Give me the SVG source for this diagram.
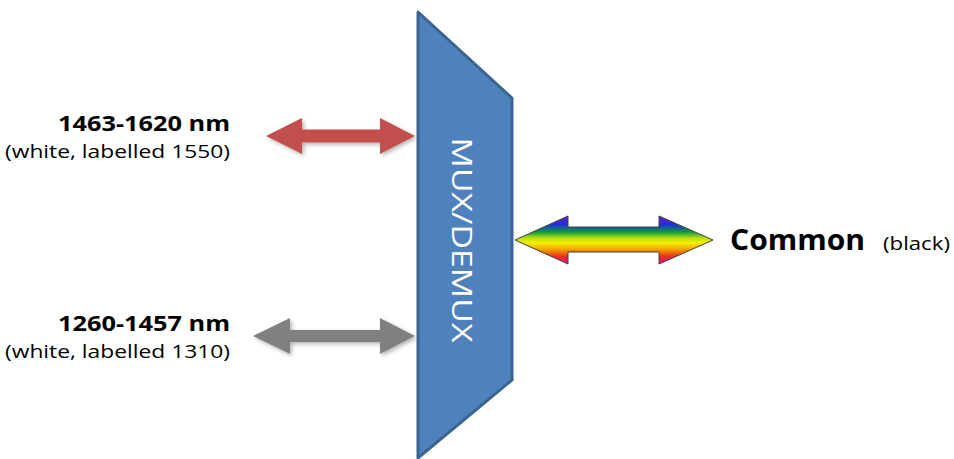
<svg xmlns="http://www.w3.org/2000/svg" width="954" height="459" viewBox="0 0 954 459">
<style>
  .lbl { font-family: "Open Sans", "Liberation Sans", sans-serif; fill: #000; }
  .b { font-weight: bold; }
  .sh { filter: url(#shadow); }
</style>
<defs>
  <filter id="shadow" x="-10%" y="-30%" width="130%" height="180%">
    <feGaussianBlur in="SourceAlpha" stdDeviation="2"/>
    <feOffset dx="2" dy="2" result="o"/>
    <feComponentTransfer><feFuncA type="linear" slope="0.3"/></feComponentTransfer>
    <feMerge><feMergeNode/><feMergeNode in="SourceGraphic"/></feMerge>
  </filter>
  <linearGradient id="rainbow" gradientUnits="userSpaceOnUse" x1="0" y1="216" x2="0" y2="264">
    <stop offset="0" stop-color="#6a1ad8"/>
    <stop offset="0.18" stop-color="#2030d8"/>
    <stop offset="0.33" stop-color="#0c9a3c"/>
    <stop offset="0.46" stop-color="#b8e010"/>
    <stop offset="0.56" stop-color="#f4f000"/>
    <stop offset="0.7" stop-color="#f4a000"/>
    <stop offset="0.84" stop-color="#e83020"/>
    <stop offset="1" stop-color="#e0108a"/>
  </linearGradient>
</defs>
<rect width="954" height="459" fill="#fff"/>

<g id="mux">
  <polygon points="418,12 512,98 512,380 418,458" fill="#4f81bd" stroke="#3a6590" stroke-width="3" stroke-linejoin="round"/>
  <text transform="translate(452,240) rotate(90)" text-anchor="middle" font-family="Open Sans, Liberation Sans, sans-serif" font-size="28" fill="#fff" textLength="205" lengthAdjust="spacingAndGlyphs">MUX/DEMUX</text>
</g>

<g id="connectors">
  <polygon class="sh" points="266,136 302,118 302,129.5 380,129.5 380,118 415,136 380,154 380,142.5 302,142.5 302,154" fill="#c0504d"/>
  <polygon class="sh" points="253,336 290,318 290,330 380,330 380,318 415,336 380,354 380,342 290,342 290,354" fill="#808080"/>
  <polygon points="515,240 568,216 568,227 659,227 659,216 713,240 659,264 659,252 568,252 568,264" fill="url(#rainbow)" stroke="#404040" stroke-width="1"/>
</g>

<g id="label1550">
  <text class="lbl b" x="230" y="131" text-anchor="end" font-size="22" textLength="172" lengthAdjust="spacingAndGlyphs">1463-1620 nm</text>
  <text class="lbl" x="230" y="158" text-anchor="end" font-size="19" textLength="225" lengthAdjust="spacingAndGlyphs">(white, labelled 1550)</text>
</g>

<g id="label1310">
  <text class="lbl b" x="230" y="331" text-anchor="end" font-size="22" textLength="172" lengthAdjust="spacingAndGlyphs">1260-1457 nm</text>
  <text class="lbl" x="230" y="358" text-anchor="end" font-size="19" textLength="225" lengthAdjust="spacingAndGlyphs">(white, labelled 1310)</text>
</g>

<g id="common">
  <text class="lbl b" x="730" y="250" font-size="28" textLength="135" lengthAdjust="spacingAndGlyphs">Common</text>
  <text class="lbl" x="883" y="250" font-size="18" textLength="67" lengthAdjust="spacingAndGlyphs">(black)</text>
</g>
</svg>
